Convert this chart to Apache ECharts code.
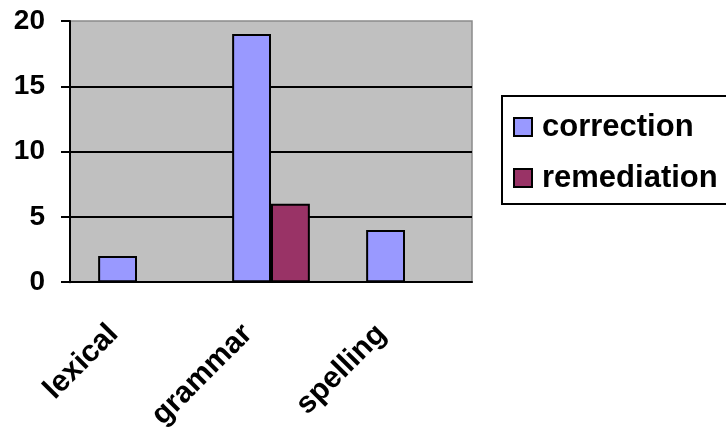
<!DOCTYPE html>
<html>
<head>
<meta charset="utf-8">
<script src="https://cdn.jsdelivr.net/npm/echarts@6/dist/echarts.min.js"></script>
<style>
  html, body { margin: 0; padding: 0; background: #fff; }
  #chart { width: 726px; height: 433px; }
</style>
</head>
<body>
<div id="chart"></div>
<script>
// Error types and counts per feedback type
const categories = ['lexical', 'grammar', 'spelling'];
const correction = [2, 19, 4];
const remediation = [0, 6, 0];
const yTicks = { min: 0, max: 20, interval: 5 };

const font = '"Liberation Sans", Arial, sans-serif';

// Zero-height bars get no outline so nothing is stroked along the axis
const barData = (values) => values.map(v => (v === 0 ? { value: v, itemStyle: { borderWidth: 0 } } : v));

const chart = echarts.init(document.getElementById('chart'), null, { renderer: 'canvas' });

chart.setOption({
  animation: false,
  backgroundColor: '#ffffff',
  grid: {
    left: 70, top: 21, right: 254, bottom: 150,
    show: true,
    backgroundColor: '#c0c0c0',
    borderColor: '#8a8a8a',
    borderWidth: 1.5
  },
  legend: {
    orient: 'vertical',
    left: 502,
    top: 96,
    padding: [14, 30, 9, 11],
    itemGap: 17,
    itemWidth: 18,
    itemHeight: 18,
    borderColor: '#000',
    borderWidth: 2,
    icon: 'rect',
    textStyle: {
      fontFamily: font,
      fontWeight: 'bold',
      fontSize: 31,
      color: '#000',
      lineHeight: 34,
      padding: [0, 0, 0, 5]
    },
    data: ['correction', 'remediation']
  },
  xAxis: {
    type: 'category',
    data: categories,
    z: 5,
    axisLine: { lineStyle: { color: '#000', width: 2 } },
    axisTick: { length: 9, lineStyle: { color: '#000', width: 2 } },
    axisLabel: {
      interval: 0,
      rotate: 45,
      margin: 24,
      padding: [0, 33, 0, 0],
      fontFamily: font,
      fontWeight: 'bold',
      fontSize: 30,
      color: '#000'
    }
  },
  yAxis: {
    type: 'value',
    min: yTicks.min,
    max: yTicks.max,
    interval: yTicks.interval,
    axisLine: { show: true, lineStyle: { color: '#000', width: 2 } },
    axisTick: { show: true, length: 9, lineStyle: { color: '#000', width: 2 } },
    splitLine: { show: true, showMaxLine: false, lineStyle: { color: '#000', width: 2 } },
    axisLabel: {
      margin: 25,
      fontFamily: font,
      fontWeight: 'bold',
      fontSize: 28,
      color: '#000'
    }
  },
  series: [
    {
      name: 'correction',
      type: 'bar',
      data: barData(correction),
      barGap: '0%',
      barCategoryGap: '42%',
      itemStyle: { color: '#9999ff', borderColor: '#000', borderWidth: 2 }
    },
    {
      name: 'remediation',
      type: 'bar',
      data: barData(remediation),
      itemStyle: { color: '#993366', borderColor: '#000', borderWidth: 2 }
    }
  ]
});
</script>
</body>
</html>
